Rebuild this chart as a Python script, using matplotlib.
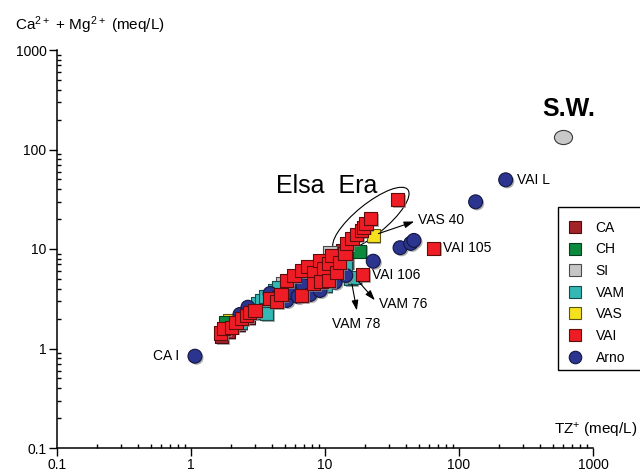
import numpy as np
import matplotlib
matplotlib.use("Agg")
import matplotlib.pyplot as plt
import matplotlib.patheffects as pe
from matplotlib.lines import Line2D
from matplotlib.patches import Ellipse, Rectangle
from matplotlib.path import Path
from matplotlib.transforms import Affine2D, ScaledTranslation
from matplotlib.ticker import FixedLocator, FixedFormatter, LogLocator, NullFormatter

plt.rcParams['font.family'] = ['Liberation Sans', 'DejaVu Sans']
plt.rcParams['mathtext.default'] = 'regular'

# TZ+ (x) and Ca2+ + Mg2+ (y), meq/L
ca_tz = [1.70, 1.89, 2.24, 2.66, 3.76, 4.61, 6.51, 8.87, 11.9, 13.6]
ca_camg = [1.32, 1.48, 1.74, 2.05, 3.26, 3.83, 5.29, 6.67, 8.03, 9.66]

ch_tz = [1.82, 18.2]
ch_camg = [1.82, 9.5]

si_tz = [4.86, 10.9]
si_camg = [4.50, 9.22]

sw_tz = [597]
sw_camg = [135]

vam_tz = [2.32, 2.90, 3.16, 3.37, 3.63, 3.67, 4.23, 4.54, 5.48, 6.70, 7.73, 10.0, 12.9, 14.1, 15.6, 16.7]
vam_camg = [1.82, 2.30, 2.83, 3.04, 3.33, 2.26, 3.83, 4.13, 4.71, 4.13, 5.81, 4.30, 6.08, 6.99, 5.05, 5.21]

vas_tz = [1.95, 2.95, 3.18, 12.9, 14.5, 22.9]
vas_camg = [1.91, 2.47, 2.64, 8.03, 7.37, 13.7]

vai_tz = [1.67, 1.76, 2.01, 2.17, 2.39, 2.61, 2.75, 3.00, 3.89, 4.36, 4.70, 5.18, 5.87, 6.70,
          6.70, 7.46, 8.18, 8.18, 9.18, 9.33, 9.83, 10.6, 10.6, 11.2, 12.2, 12.9, 14.1, 14.5,
          15.9, 17.2, 18.6, 19.3, 20.2, 22.0, 34.9, 19.1, 64.3]
vai_camg = [1.43, 1.59, 1.64, 1.82, 1.99, 2.15, 2.30, 2.41, 3.16, 2.97, 3.49, 4.82, 5.42, 3.41,
            6.08, 6.67, 5.85, 4.47, 7.66, 4.71, 6.37, 7.10, 4.82, 8.60, 5.85, 7.32, 8.95, 11.4,
            12.8, 13.9, 15.3, 16.6, 18.0, 20.1, 31.2, 5.54, 10.2]

arno_tz = [1.07, 2.32, 2.66, 3.89, 4.46, 5.18, 5.48, 6.29, 6.85, 7.73, 9.18, 10.2, 11.9, 14.3,
           22.9, 36.3, 43.6, 46.1, 133, 223]
arno_camg = [0.837, 2.20, 2.60, 3.57, 3.33, 3.04, 3.68, 3.33, 4.30, 3.49, 3.83, 4.82, 4.64, 5.42,
             7.54, 10.3, 11.4, 12.2, 29.8, 49.6]

ticks = [0.1, 1, 10, 100, 1000]
tick_labels = ['0.1', '1', '10', '100', '1000']

colors = {
    'CA': ('#a3232b', '#4a0c10'),
    'CH': ('#0b8a3e', '#063d1b'),
    'SI': ('#c6c6c6', '#4a4a4a'),
    'VAM': ('#33b8b4', '#1a4a4a'),
    'VAS': ('#f5e11e', '#5a5510'),
    'VAI': ('#ee1c25', '#5e0c0c'),
    'Arno': ('#2b3590', '#121640'),
}

fig = plt.figure(figsize=(6.4, 4.75), dpi=100)
ax = fig.add_axes([57 / 640, 1 - 448 / 475, (593 - 57) / 640, (448 - 50) / 475])

shadow = [pe.SimplePatchShadow(offset=(1.2, -1.2), shadow_rgbFace='0.55', alpha=0.7), pe.Normal()]

def draw(x, y, key, marker, size, z):
    fc, ec = colors[key]
    ax.scatter(x, y, s=size, marker=marker, facecolor=fc, edgecolor=ec, linewidth=0.8,
               zorder=z, path_effects=shadow)

draw(ca_tz, ca_camg, 'CA', 's', 90, 3)
draw(si_tz, si_camg, 'SI', 's', 90, 3.1)
draw(vas_tz, vas_camg, 'VAS', 's', 90, 3.2)
draw(vam_tz, vam_camg, 'VAM', 's', 90, 3.3)
draw(ch_tz, ch_camg, 'CH', 's', 90, 3.4)
draw(arno_tz, arno_camg, 'Arno', 'o', 100, 3.5)
draw(vai_tz, vai_camg, 'VAI', 's', 90, 3.6)

# sea water, drawn as a flat ellipse
oval = Path.unit_circle().transformed(Affine2D().scale(1.0, 0.78))
ax.scatter(sw_tz, sw_camg, s=170, marker=oval, facecolor='#c8c8c8', edgecolor='#3a3a3a',
           linewidth=0.8, zorder=3)

ax.set_xscale('log')
ax.set_yscale('log')
ax.set_xlim(0.1, 1000)
ax.set_ylim(0.1, 1000)
for axis in (ax.xaxis, ax.yaxis):
    axis.set_major_locator(FixedLocator(ticks))
    axis.set_major_formatter(FixedFormatter(tick_labels))
    axis.set_minor_locator(LogLocator(base=10, subs=np.arange(2, 10)))
    axis.set_minor_formatter(NullFormatter())

ax.spines['top'].set_visible(False)
ax.spines['right'].set_visible(False)
ax.spines['left'].set_linewidth(1.1)
ax.spines['bottom'].set_linewidth(1.1)
ax.tick_params(which='major', direction='out', length=5.5, width=1, labelsize=10, pad=2)
ax.tick_params(which='minor', direction='in', length=3, width=1)

fig.text(15 / 640, 1 - 25 / 475, r'Ca$^{2+}$ + Mg$^{2+}$ (meq/L)', fontsize=11, ha='left', va='center')
fig.text(637 / 640, 1 - 430 / 475, r'TZ$^{+}$ (meq/L)', fontsize=11, ha='right', va='center')

# point labels
lab = dict(textcoords='offset points', fontsize=10, va='center')
ax.annotate('VAI L', (arno_tz[-1], arno_camg[-1]), xytext=(8.5, 0), ha='left', **lab)
ax.annotate('CA I', (arno_tz[0], arno_camg[0]), xytext=(-11.5, 0), ha='right', **lab)
ax.annotate('VAI 105', (vai_tz[-1], vai_camg[-1]), xytext=(7, 0), ha='left', **lab)
ax.annotate('VAI 106', (vai_tz[-2], vai_camg[-2]), xytext=(6.5, 0), ha='left', **lab)
ax.annotate('S.W.', (sw_tz[0], sw_camg[0]), xytext=(4.3, 20), ha='center', textcoords='offset points',
            fontsize=18, fontweight='bold', va='center')

arrow = dict(arrowstyle='<|-,head_length=0.6,head_width=0.2', color='black', lw=0.8,
             shrinkA=0, shrinkB=4)
ax.annotate('', (vas_tz[-1], vas_camg[-1]), xytext=(29.5, 10), textcoords='offset points',
            arrowprops=arrow, zorder=5)
ax.annotate('VAS 40', (vas_tz[-1], vas_camg[-1]), xytext=(32, 11), ha='left', **lab)
ax.annotate('', (vam_tz[-2], vam_camg[-2]), xytext=(4.3, -23), textcoords='offset points',
            arrowprops=arrow, zorder=5)
ax.annotate('VAM 78', (vam_tz[-2], vam_camg[-2]), xytext=(3.6, -32.5), ha='center', **lab)
ax.annotate('', (vam_tz[-1], vam_camg[-1]), xytext=(14.4, -16.6), textcoords='offset points',
            arrowprops=arrow, zorder=5)
ax.annotate('VAM 76', (vam_tz[-1], vam_camg[-1]), xytext=(34.6, -19.5), ha='center', **lab)

# Elsa / Era group outline
ell_tr = fig.dpi_scale_trans + ScaledTranslation(22.0, 19.8, ax.transData)
ax.add_patch(Ellipse((0, 0), 0.95, 0.31, angle=39, transform=ell_tr, fill=False,
                     edgecolor='black', lw=0.8, zorder=2))
ax.text(10.3, 42.5, 'Elsa  Era', fontsize=18, ha='center', va='center')

handles = []
for key in ['CA', 'CH', 'SI', 'VAM', 'VAS', 'VAI', 'Arno']:
    fc, ec = colors[key]
    handles.append(Line2D([], [], ls='', marker='o' if key == 'Arno' else 's',
                          markersize=9 if key == 'Arno' else 8,
                          markerfacecolor=fc, markeredgecolor=ec, markeredgewidth=0.8, label=key))
fig.legend(handles=handles, loc='upper left', bbox_to_anchor=(558 / 640, 1 - 211 / 475),
           borderaxespad=0, fontsize=10, frameon=False,
           handlelength=1.0, handletextpad=1.0, borderpad=0.7, labelspacing=0.55)
# legend box runs off the right edge of the figure
fig.patches.append(Rectangle((558 / 640, 1 - 370 / 475), 0.2, 163 / 475, transform=fig.transFigure,
                             fill=False, edgecolor='black', linewidth=1.0))

fig.savefig('out.png', dpi=100)
